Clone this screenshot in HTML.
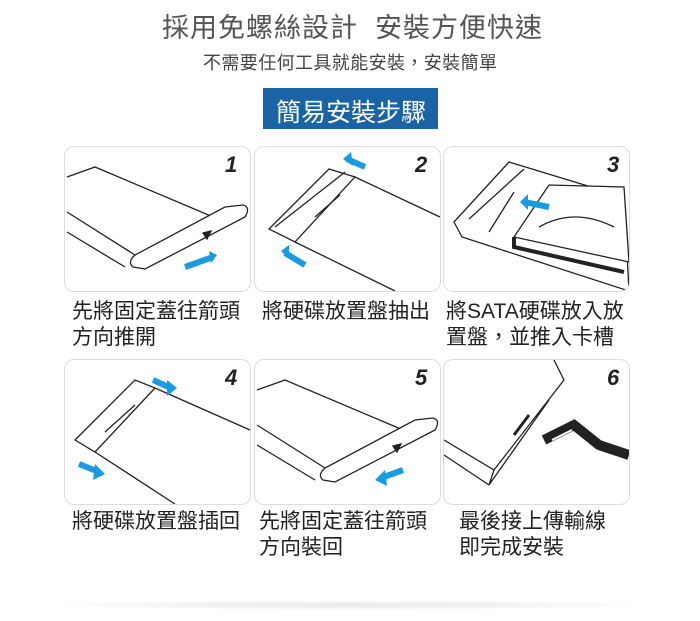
<!DOCTYPE html>
<html><head><meta charset="utf-8"><style>
body{margin:0;background:#fff;width:700px;height:621px;overflow:hidden;font-family:"Liberation Sans","Noto Sans CJK TC",sans-serif;position:relative}
.t{position:absolute;white-space:nowrap;color:#333}
.box{position:absolute;border:1.5px solid #ddd;border-radius:10px;background:#fff;overflow:hidden}
.lbl{position:absolute;font-size:21px;line-height:26px;color:#222;white-space:nowrap}
.n{position:absolute;font:italic bold 22px "Liberation Sans",sans-serif;color:#222}
</style></head><body>
<div class="t" style="left:162px;top:6px;font-size:27px;color:#555;letter-spacing:1px">採用免螺絲設計&nbsp; 安裝方便快速</div>
<div class="t" style="left:203px;top:49px;font-size:18px;color:#444;letter-spacing:0.4px">不需要任何工具就能安裝，安裝簡單</div>
<div style="position:absolute;left:263px;top:88px;width:175px;height:41px;background:#1a64a6"></div>
<div class="t" style="left:276px;top:93px;font-size:25px;color:#fff">簡易安裝步驟</div>

<!-- row 1 -->
<div class="box" style="left:64px;top:146px;width:185px;height:144px">
<svg width="185" height="144" stroke="#222" fill="none" stroke-width="1.3">
<path d="M2 30 L30 20 L160 75"/><path d="M2 65 L70 108 M2 85 L60 120"/>
<path d="M70 108 Q62 115 68 120 L80 122 L180 70 Q186 60 178 58 L160 60 L70 108Z" fill="#fff"/>
<polygon points="138,86 146,84 142,92" fill="#222"/>
<path d="M120 120 L148 110" stroke="#1a9be0" stroke-width="6"/><polygon points="144,104 152,108 146,116" fill="#1a9be0" stroke="none"/>
</svg><div class="n" style="left:160px;top:5px">1</div></div>
<div class="box" style="left:254px;top:146px;width:185px;height:144px">
<svg width="185" height="144" stroke="#222" fill="none" stroke-width="1.3">
<path d="M14 82 L74 22 L100 30 L40 95 Z" fill="#fff"/><path d="M100 30 L185 70 M40 95 L140 144 M20 80 L90 25"/>
<path d="M60 70 L85 48"/>
<path d="M110 20 L92 12" stroke="#1a9be0" stroke-width="6"/><polygon points="96,5 88,12 98,19" fill="#1a9be0" stroke="none"/>
<path d="M50 118 L30 106" stroke="#1a9be0" stroke-width="6"/><polygon points="34,98 26,104 34,112" fill="#1a9be0" stroke="none"/>
</svg><div class="n" style="left:160px;top:5px">2</div></div>
<div class="box" style="left:443px;top:146px;width:185px;height:144px">
<svg width="185" height="144" stroke="#222" fill="none" stroke-width="1.3">
<path d="M10 75 L65 15 L180 50 L185 144 L18 90 Z" fill="#fff"/>
<path d="M25 72 L80 22 M45 85 L70 45"/>
<path d="M70 90 L105 38 L180 40 L185 115 Z" fill="#fff"/>
<path d="M70 90 L70 100 L180 125" stroke-width="4"/>
<path d="M95 80 Q130 60 170 80"/>
<path d="M105 60 L80 55" stroke="#1a9be0" stroke-width="6"/><polygon points="84,47 76,55 84,63" fill="#1a9be0" stroke="none"/>
</svg><div class="n" style="left:163px;top:5px">3</div></div>

<div class="lbl" style="left:72px;top:299px">先將固定蓋往箭頭<br>方向推開</div>
<div class="lbl" style="left:262px;top:299px">將硬碟放置盤抽出</div>
<div class="lbl" style="left:446px;top:299px">將SATA硬碟放入放<br>置盤，並推入卡槽</div>

<!-- row 2 -->
<div class="box" style="left:64px;top:359px;width:185px;height:144px">
<svg width="185" height="144" stroke="#222" fill="none" stroke-width="1.3">
<path d="M10 80 L70 20 L90 28 L30 92 Z" fill="#fff"/><path d="M90 28 L185 70 M30 92 L110 144 M40 72 L70 45"/>
<path d="M88 20 L106 28" stroke="#1a9be0" stroke-width="6"/><polygon points="102,20 112,28 102,36" fill="#1a9be0" stroke="none"/>
<path d="M14 104 L34 112" stroke="#1a9be0" stroke-width="6"/><polygon points="30,104 40,114 28,120" fill="#1a9be0" stroke="none"/>
</svg><div class="n" style="left:160px;top:5px">4</div></div>
<div class="box" style="left:254px;top:359px;width:185px;height:144px">
<svg width="185" height="144" stroke="#222" fill="none" stroke-width="1.3">
<path d="M2 30 L30 20 L160 75"/><path d="M2 65 L70 108 M2 85 L60 120"/>
<path d="M70 108 Q62 115 68 120 L80 122 L180 70 Q186 60 178 58 L160 60 L70 108Z" fill="#fff"/>
<polygon points="138,86 146,84 142,92" fill="#222"/>
<path d="M148 110 L126 118" stroke="#1a9be0" stroke-width="6"/><polygon points="130,110 120,120 132,126" fill="#1a9be0" stroke="none"/>
</svg><div class="n" style="left:160px;top:5px">5</div></div>
<div class="box" style="left:443px;top:359px;width:185px;height:144px">
<svg width="185" height="144" stroke="#222" fill="none" stroke-width="1.3">
<path d="M0 80 L50 110 L120 20 L110 0 M0 95 L45 125 M50 110 L45 125 L105 40"/>
<path d="M70 75 L85 55" stroke-width="3"/>
<path d="M100 80 L130 65 L155 85 L185 95" stroke="#222" stroke-width="10"/>
<path d="M108 80 L128 70" stroke="#fff" stroke-width="2"/>
</svg><div class="n" style="left:163px;top:5px">6</div></div>

<div class="lbl" style="left:72px;top:509px">將硬碟放置盤插回</div>
<div class="lbl" style="left:259px;top:509px">先將固定蓋往箭頭<br>方向裝回</div>
<div class="lbl" style="left:459px;top:509px">最後接上傳輸線<br>即完成安裝</div>
<div style="position:absolute;left:40px;top:600px;width:620px;height:10px;background:radial-gradient(ellipse at center,#e6e6e6,#fff 70%)"></div>
</body></html>
